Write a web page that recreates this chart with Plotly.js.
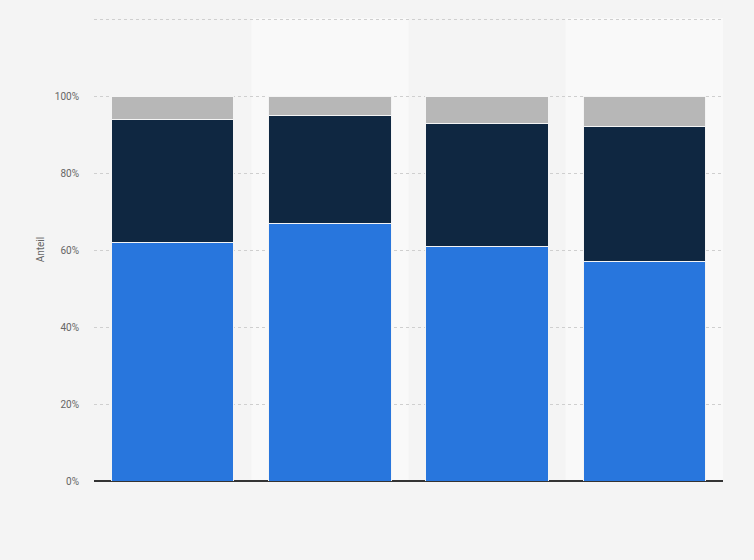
<!DOCTYPE html>
<html>
<head>
<meta charset="utf-8">
<script src="https://cdn.plot.ly/plotly-3.0.1.min.js"></script>
<style>html,body{margin:0;padding:0;background:#f4f4f4;}#chart{width:754px;height:560px;}</style>
</head>
<body>
<div id="chart"></div>
<script>
var categories = ["1", "2", "3", "4"];
var seriesBlue = [62, 67, 61, 57];
var seriesDark = [32, 28, 32, 35];
var seriesGray = [6, 5, 7, 8];
var yTickVals = [0, 20, 40, 60, 80, 100, 120];
var yTickText = ["0%", "20%", "40%", "60%", "80%", "100%", ""];

function mk(vals, color) {
  return {
    type: "bar", x: categories, y: vals,
    marker: {color: color, line: {color: "#f4f4f4", width: 1}},
    hoverinfo: "y"
  };
}
var data = [mk(seriesBlue, "#2876dd"), mk(seriesDark, "#0f2741"), mk(seriesGray, "#b7b7b7")];

var shapes = [];
for (var i = 1; i < categories.length; i += 2) {
  shapes.push({type: "rect", xref: "x", yref: "paper", x0: i - 0.5, x1: i + 0.5, y0: 0, y1: 1,
    fillcolor: "#f9f9f9", line: {width: 0}, layer: "below"});
}

var layout = {
  width: 754, height: 560,
  paper_bgcolor: "#f4f4f4", plot_bgcolor: "#f4f4f4",
  margin: {l: 94, r: 31, t: 18, b: 79},
  barmode: "stack", bargap: 0.22,
  showlegend: false,
  shapes: shapes,
  font: {family: "Roboto, Arial, sans-serif", size: 10, color: "#666"},
  xaxis: {showticklabels: false, showgrid: false, zeroline: false, ticks: "",
    showline: false, range: [-0.5, 3.5], type: "category"},
  yaxis: {range: [0, 120.3], tickvals: yTickVals, ticktext: yTickText,
    showgrid: true, gridcolor: "#cfcfcf", griddash: "dot", gridwidth: 1,
    zeroline: true, zerolinecolor: "#333", zerolinewidth: 1.5,
    ticks: "", ticklabelstandoff: 14,
    tickfont: {size: 10, color: "#666"},
    title: {text: "Anteil", font: {size: 10, color: "#666"}, standoff: 8}}
};
Plotly.newPlot("chart", data, layout, {displayModeBar: false, staticPlot: true});
</script>
</body>
</html>
